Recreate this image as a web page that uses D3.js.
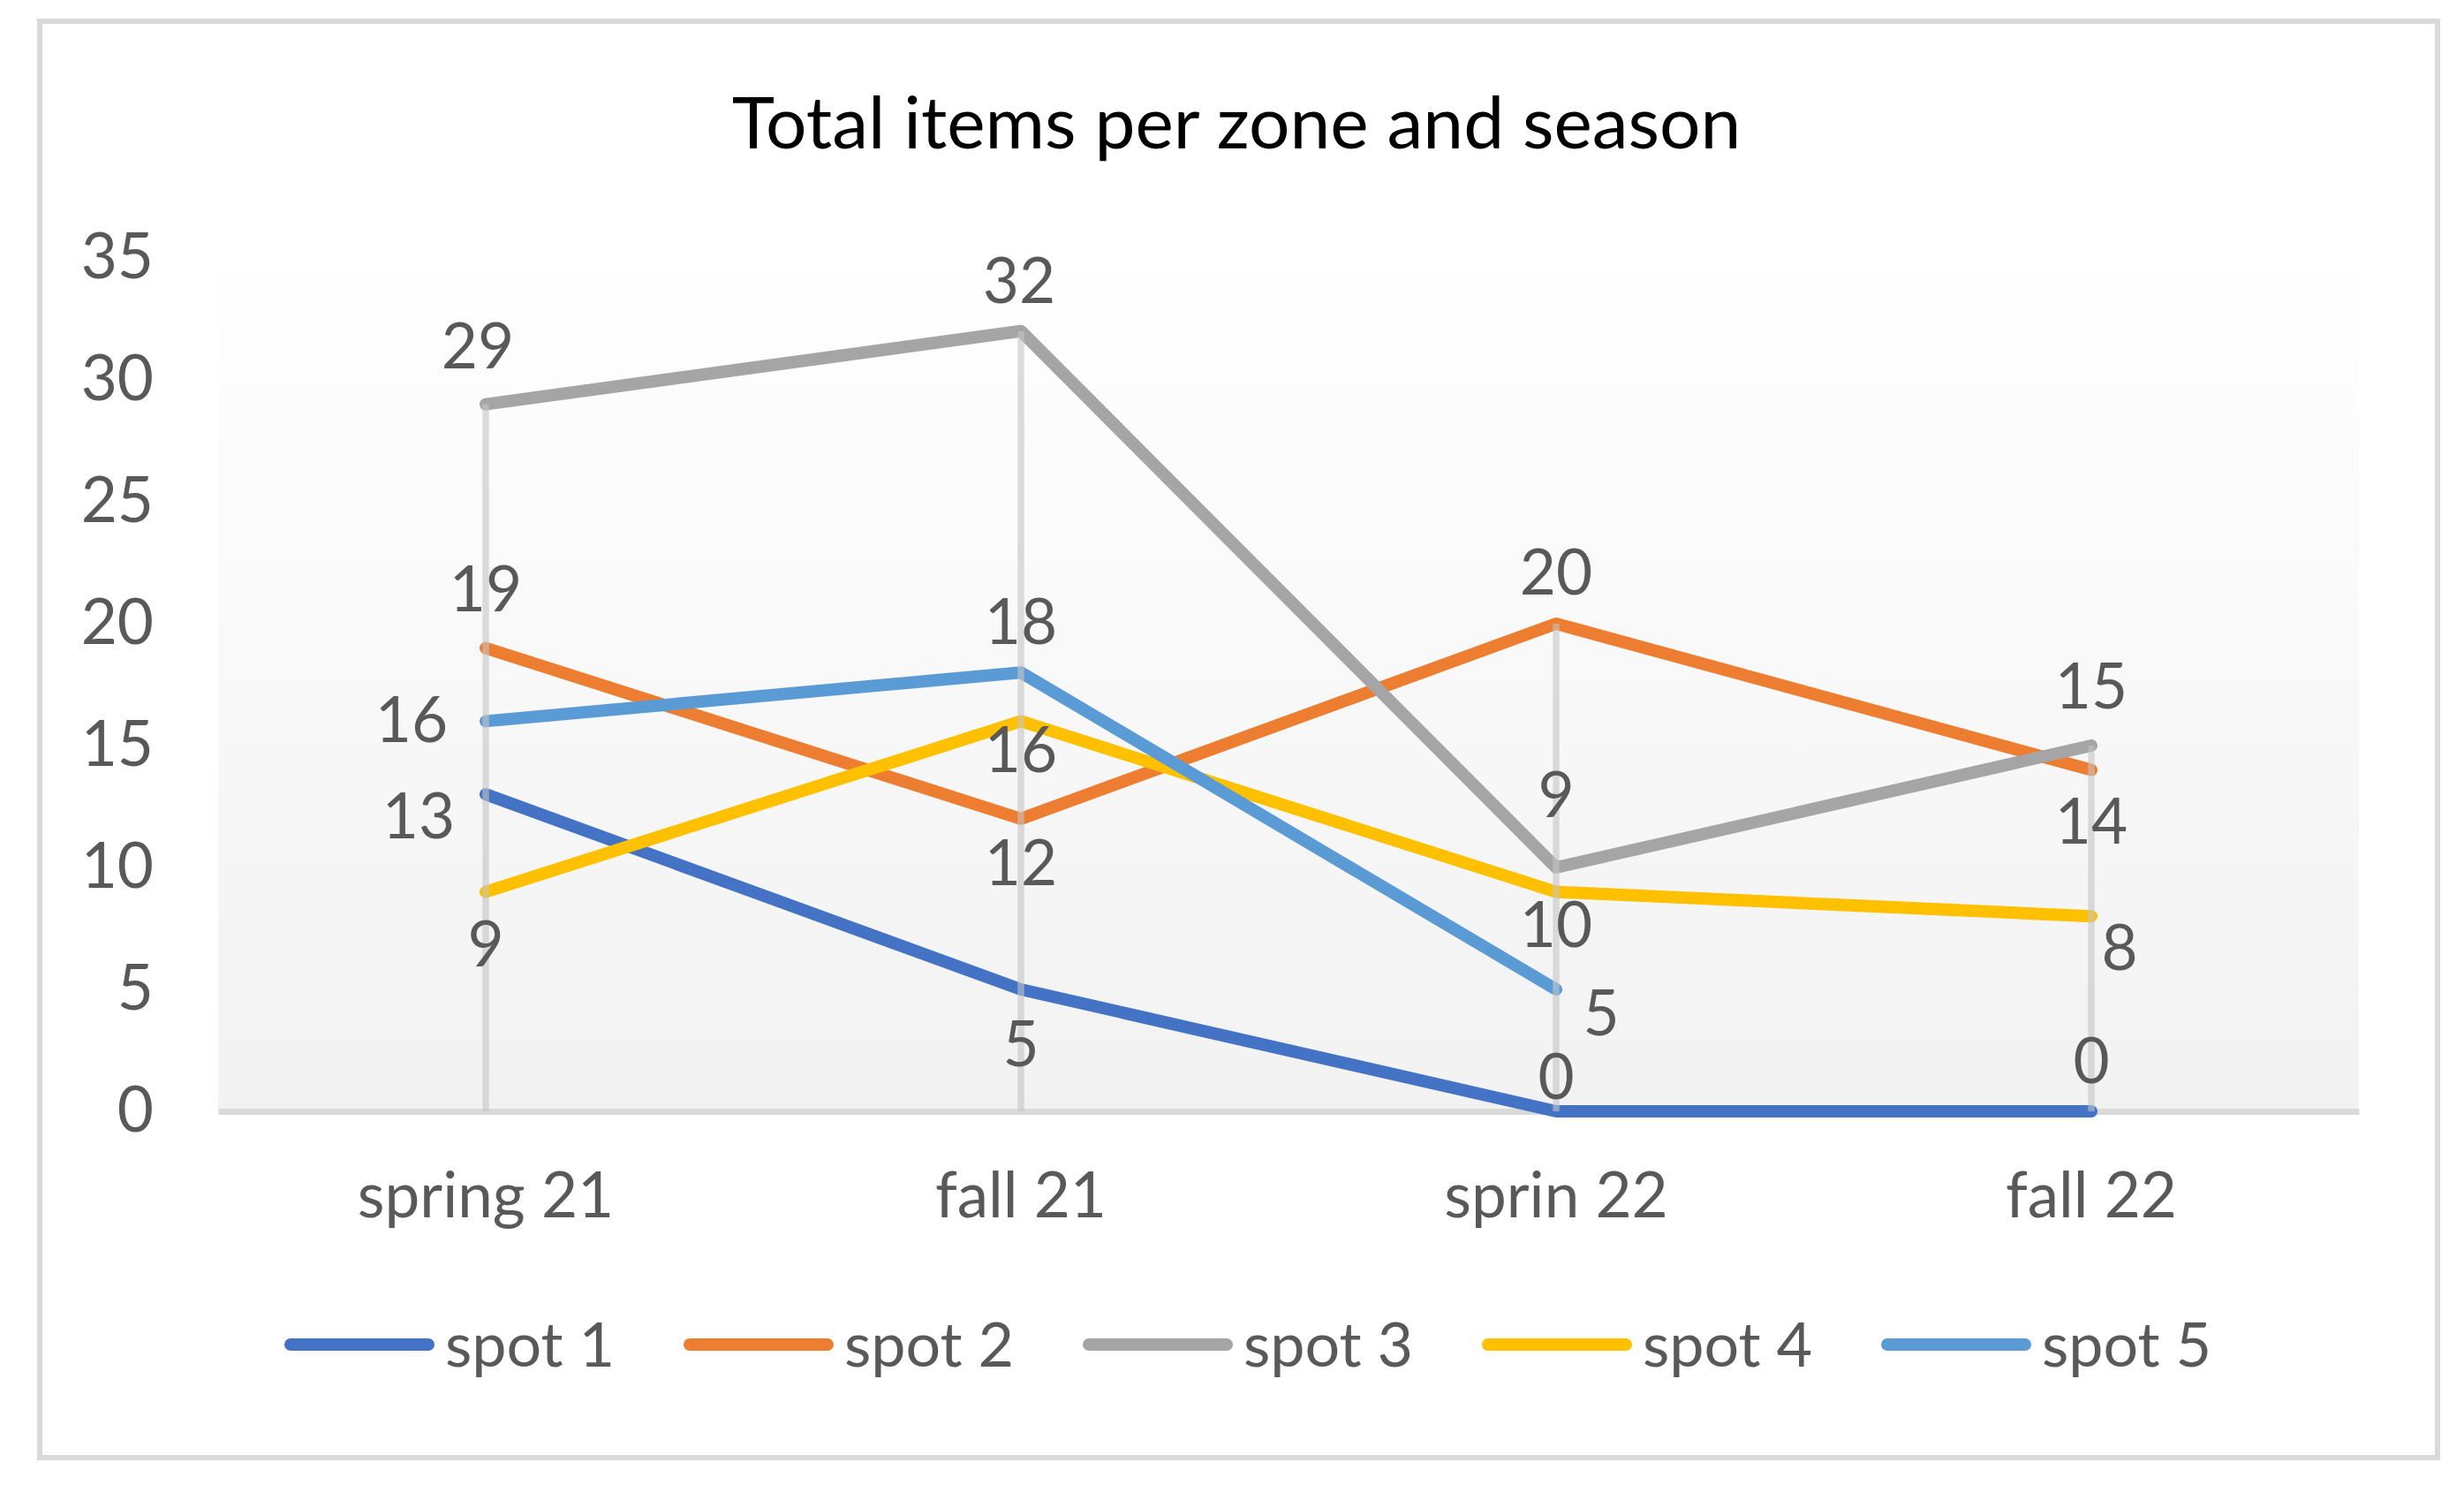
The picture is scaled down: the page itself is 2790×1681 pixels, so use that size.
<!DOCTYPE html>
<html><head><meta charset="utf-8">
<script src="https://cdn.jsdelivr.net/npm/d3@7"></script>
<style>html,body{margin:0;padding:0;background:#fff;} svg{display:block;}</style>
</head><body>
<svg id="chart" width="2790" height="1681"></svg>
<script>
// ---- data ----
const categories = ["spring 21", "fall 21", "sprin 22", "fall 22"];
const seriesNames = ["spot 1", "spot 2", "spot 3", "spot 4", "spot 5"];
const spot1 = [13, 5, 0, 0];
const spot2 = [19, 12, 20, 14];
const spot3 = [29, 32, 10, 15];
const spot4 = [9, 16, 9, 8];
const spot5 = [16, 18, 5, null];
// data label texts as shown in the chart
const labels1 = ["13", "5", "0", "0"];
const labels2 = ["19", "12", "20", "14"];
const labels3 = ["29", "32", "9", "15"];
const labels4 = ["9", "16", "10", "8"];
const labels5 = ["16", "18", "5", null];
const yTicks = [0, 5, 10, 15, 20, 25, 30, 35];
const title = "Total items per zone and season";

// ---- style ----
const colors = ["#4472C4", "#ED7D31", "#A5A5A5", "#FFC000", "#5B9BD5"];
// label placement relative to its point (px)
const labelOffsets = [
  [[-76, 24], [0, 61], [0, -40], [0, -58]],
  [[0, -67], [0, 50], [0, -59], [0, 58]],
  [[-9, -66], [-2, -57], [0, -83], [0, -68]],
  [[0, 59], [0, 32], [0, 37], [32, 35]],
  [[-84, -2], [0, -58], [51, 26], null]
];
const FONT = "Lato, 'Open Sans', sans-serif";
const TXT = "#595959";
const FS = 71;

const values = [spot1, spot2, spot3, spot4, spot5];
const labelTexts = [labels1, labels2, labels3, labels4, labels5];

const svg = d3.select("#chart");
const plot = {left: 247, right: 2671, top: 292, bottom: 1258};

// outer border
svg.append("rect").attr("x", 45).attr("y", 24).attr("width", 2715).attr("height", 1626)
  .attr("fill", "#fff").attr("stroke", "#d9d9d9").attr("stroke-width", 6);

// gradient plot background
const defs = svg.append("defs");
const grad = defs.append("linearGradient").attr("id", "bg").attr("x1", 0).attr("y1", 0).attr("x2", 0).attr("y2", 1);
grad.append("stop").attr("offset", "0%").attr("stop-color", "#ffffff");
grad.append("stop").attr("offset", "100%").attr("stop-color", "#f2f2f2");
svg.append("rect").attr("x", plot.left).attr("y", plot.top - 30)
  .attr("width", plot.right - plot.left).attr("height", plot.bottom - plot.top + 30)
  .attr("fill", "url(#bg)");

const x = d3.scaleBand().domain(categories).range([plot.left, plot.right]);
const cx = c => x(c) + x.bandwidth() / 2;
const y = d3.scaleLinear().domain([0, 35]).range([plot.bottom, plot.top]);

// title
svg.append("text").attr("x", 1400).attr("y", 168).attr("text-anchor", "middle")
  .attr("font-family", FONT).attr("font-size", 82).attr("fill", "#000").text(title);

// y axis
const yAxis = svg.append("g").attr("transform", `translate(${plot.left},0)`)
  .call(d3.axisLeft(y).tickValues(yTicks).tickSize(0).tickPadding(73));
yAxis.select(".domain").remove();
yAxis.selectAll("text").attr("font-family", FONT).attr("font-size", FS).attr("fill", TXT);

// x axis
const xAxis = svg.append("g").attr("transform", `translate(0,${plot.bottom})`)
  .call(d3.axisBottom(x).tickSize(0).tickSizeOuter(0).tickPadding(70));
xAxis.select(".domain").attr("stroke", "#d9d9d9").attr("stroke-width", 7);
xAxis.selectAll("text").attr("font-family", FONT).attr("font-size", FS).attr("fill", TXT);

// series lines
const line = d3.line()
  .defined(d => d.v !== null)
  .x(d => cx(d.c)).y(d => y(d.v));
values.forEach((vals, i) => {
  const pts = categories.map((c, j) => ({c, v: vals[j]}));
  svg.append("path").datum(pts).attr("d", line)
    .attr("fill", "none").attr("stroke", colors[i]).attr("stroke-width", 14)
    .attr("stroke-linejoin", "round").attr("stroke-linecap", "round");
});

// drop lines
categories.forEach((c, j) => {
  const mx = d3.max(values, v => v[j]);
  svg.append("line").attr("x1", cx(c)).attr("x2", cx(c))
    .attr("y1", y(mx)).attr("y2", y(0))
    .attr("stroke", "#c4c4c4").attr("stroke-opacity", 0.6).attr("stroke-width", 7.5);
});

// data labels
values.forEach((vals, i) => {
  categories.forEach((c, j) => {
    if (vals[j] === null || labelTexts[i][j] === null) return;
    const off = labelOffsets[i][j];
    svg.append("text").attr("x", cx(c) + off[0]).attr("y", y(vals[j]) + off[1])
      .attr("dy", "0.36em").attr("text-anchor", "middle")
      .attr("font-family", FONT).attr("font-size", FS).attr("fill", TXT)
      .text(labelTexts[i][j]);
  });
});

// legend
const lx = d3.scalePoint().domain(seriesNames).range([322, 322 + 4 * 452]);
const legY = 1522;
seriesNames.forEach((n, i) => {
  const x0 = lx(n);
  svg.append("line").attr("x1", x0 + 7).attr("x2", x0 + 163).attr("y1", legY).attr("y2", legY)
    .attr("stroke", colors[i]).attr("stroke-width", 14).attr("stroke-linecap", "round");
  svg.append("text").attr("x", x0 + 182).attr("y", legY).attr("dy", "0.35em")
    .attr("font-family", FONT).attr("font-size", 70).attr("fill", TXT).text(n);
});
</script>
</body></html>
